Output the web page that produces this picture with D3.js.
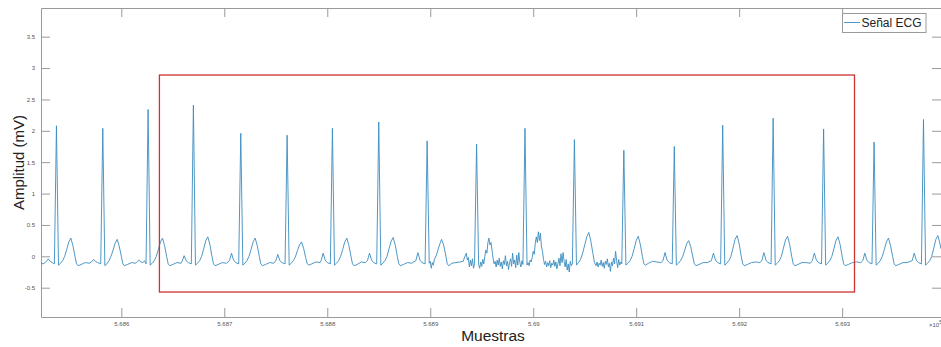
<!DOCTYPE html>
<html><head><meta charset="utf-8">
<script src="https://cdn.jsdelivr.net/npm/d3@7"></script>
<style>
html,body{margin:0;padding:0;background:#fff;overflow:hidden}
svg{display:block;font-family:"Liberation Sans",Arial,Helvetica,sans-serif}
</style></head>
<body>
<svg id="chart" width="941" height="347"></svg>
<script>
// ---------- data ----------
const xDomain = [568522, 569396];          // Muestras
const yDomain = [-0.967, 3.957];            // Amplitud (mV)
const xTickValues = [568600, 568700, 568800, 568900, 569000, 569100, 569200, 569300];
const xTickLabels = ["5.686", "5.687", "5.688", "5.689", "5.69", "5.691", "5.692", "5.693"];
const yTickValues = [-0.5, 0, 0.5, 1, 1.5, 2, 2.5, 3, 3.5];
const yTickLabels = ["-0.5", "0", "0.5", "1", "1.5", "2", "2.5", "3", "3.5"];
const seriesName = "Señal ECG";
const roiSamples = [568637, 569312];        // red rectangle, x extent
const roiAmplitude = [-0.569, 2.889];       // red rectangle, y extent

const ecgTrace = [
[568522,-0.11],[568524,-0.12],[568526,-0.10],[568528,-0.07],[568529,-0.04],[568531,-0.08],[568533,-0.10],[568535,-0.12],
[568537,2.08],[568539,-0.14],[568541,-0.11],[568543,-0.07],[568545,0.0],[568547,0.11],[568549,0.23],[568551,0.29],[568553,0.17],[568555,0.0],[568556.5,-0.12],[568558,-0.15],[568561,-0.13],[568565,-0.10],[568569,-0.11],
[568571,-0.09],[568573,-0.05],[568575,-0.08],[568577,-0.10],[568580,-0.12],[568582,2.04],[568584,-0.15],[568586,-0.12],[568588,-0.07],[568590,0.0],[568592,0.10],[568594,0.21],[568596,0.27],[568598,0.16],[568600,0.0],[568601.5,-0.12],[568603,-0.15],[568606,-0.13],[568610,-0.10],[568614,-0.11],
[568615,-0.09],[568617,-0.06],[568619,-0.09],[568621,-0.10],[568622.5,-0.07],[568624,-0.12],[568626,2.34],[568628,-0.14],[568630,-0.11],[568632,-0.07],[568634,0.0],[568636,0.11],[568638,0.23],[568640,0.29],[568642,0.17],[568644,0.0],[568645.5,-0.12],[568647,-0.15],[568650,-0.13],[568654,-0.10],[568658,-0.11],
[568659,-0.08],[568661,0.01],[568663,-0.07],[568665,-0.10],[568668,-0.12],[568670,2.41],[568672,-0.14],[568674,-0.11],[568676,-0.07],[568678,0.0],[568680,0.12],[568682,0.25],[568684,0.31],[568686,0.19],[568688,0.0],[568689.5,-0.12],[568691,-0.15],[568694,-0.13],[568698,-0.10],[568702,-0.11],
[568705,-0.07],[568707,0.05],[568709,-0.06],[568711,-0.10],[568714,-0.12],[568716,1.96],[568718,-0.14],[568720,-0.11],[568722,-0.07],[568724,0.0],[568726,0.11],[568728,0.23],[568730,0.29],[568732,0.17],[568734,0.0],[568735.5,-0.12],[568737,-0.15],[568740,-0.13],[568744,-0.10],[568748,-0.11],
[568750,-0.07],[568752,0.03],[568754,-0.07],[568756,-0.10],[568759,-0.12],[568761,1.93],[568763,-0.14],[568765,-0.11],[568767,-0.07],[568769,-0.01],[568771,0.09],[568773,0.18],[568775,0.23],[568777,0.13],[568779,-0.02],[568780.5,-0.12],[568782,-0.14],[568785,-0.12],[568789,-0.09],[568793,-0.10],
[568794,-0.07],[568796,0.05],[568798,-0.06],[568800,-0.10],[568803,-0.12],[568805,2.04],[568807,-0.14],[568809,-0.11],[568811,-0.07],[568813,0.0],[568815,0.11],[568817,0.23],[568819,0.29],[568821,0.17],[568823,0.0],[568824.5,-0.12],[568826,-0.15],[568829,-0.13],[568833,-0.09],[568837,-0.10],
[568839,-0.07],[568841,0.05],[568843,-0.06],[568845,-0.10],[568848,-0.12],[568850,2.14],[568852,-0.14],[568854,-0.11],[568856,-0.07],[568858,0.0],[568860,0.12],[568862,0.24],[568864,0.30],[568866,0.18],[568868,0.0],[568869.5,-0.12],[568871,-0.15],[568874,-0.13],[568878,-0.10],[568882,-0.11],
[568886,-0.07],[568888,0.06],[568890,-0.06],[568892,-0.10],[568895,-0.12],[568897,1.84],[568899,-0.11],[568900,-0.08],[568901,-0.19],[568902,-0.10],[568903,-0.14],[568904,-0.05],[568906,0.02],[568908,0.13],[568910,0.23],[568911,0.27],[568913,0.18],[568915,0.02],[568916.5,-0.12],[568918,-0.15],[568921,-0.11],[568925,-0.10],[568929,-0.09],
[568932,-0.08],[568933,-0.03],[568935,0.05],[568936,-0.06],[568937,-0.02],[568938,-0.17],[568939,-0.06],[568940,-0.15],[568941,-0.04],[568942,-0.19],[568943,-0.12],[568945,1.79],[568947,-0.13],[568948,-0.19],[568949,-0.09],[568950,-0.16],[568951,-0.05],[568952,-0.12],[568953,0.0],[568954,0.10],[568955,0.05],[568956,0.22],[568957,0.29],[568958,0.18],[568959,0.22],[568960,0.10],[568961,-0.03],[568962,-0.12],[568963,-0.08],[568964,-0.17],
[568965,-0.06],[568966,-0.14],[568967,-0.03],[568968,-0.16],[568969,-0.09],[568970,-0.20],[568971,-0.07],[568972,-0.13],[568973,0.01],[568974,-0.15],[568975,-0.08],[568976,-0.21],[568977,-0.10],[568978,-0.04],[568979,-0.16],[568980,0.05],[568981,-0.12],[568982,-0.06],[568983,-0.18],[568984,0.02],[568985,-0.14],[568986,0.06],[568987,-0.10],[568988,-0.17],[568989,-0.07],[568990,-0.13],
[568992,2.04],[568994,-0.14],[568995,-0.10],[568996,-0.15],[568997,-0.06],[568998,-0.09],[568999,-0.02],[569000,0.08],[569001,0.03],[569002,0.21],[569003,0.31],[569004,0.22],[569005,0.39],[569006,0.25],[569007,0.37],[569008,0.15],[569009,0.08],[569010,-0.05],[569011,-0.13],
[569012,-0.08],[569013,-0.17],[569014,-0.10],[569015,-0.15],[569016,-0.07],[569017,-0.18],[569018,-0.11],[569019,-0.14],[569020,-0.06],[569021,-0.16],[569022,-0.09],[569023,-0.20],[569024,-0.12],[569025,-0.03],[569026,-0.15],[569027,0.04],[569028,-0.10],[569029,0.06],[569030,-0.08],[569031,-0.17],[569032,-0.05],[569033,-0.22],[569034,-0.12],[569035,-0.25],[569036,-0.08],[569037,-0.15],[569038,-0.12],
[569040,1.86],[569042,-0.14],[569044,-0.10],[569046,-0.05],[569048,0.05],[569050,0.18],[569052,0.31],[569054,0.38],[569056,0.24],[569058,0.04],[569059.5,-0.10],
[569061,-0.15],[569062,-0.09],[569063,-0.17],[569064,-0.11],[569065,-0.14],[569066,-0.06],[569067,-0.16],[569068,-0.10],[569069,-0.19],[569070,-0.08],[569071,-0.13],[569072,-0.04],[569073,-0.17],[569074,-0.11],[569075,-0.24],[569076,-0.09],[569077,-0.15],[569078,-0.03],[569079,-0.12],[569080,0.08],[569081,-0.07],[569082,-0.18],[569083,-0.05],[569084,-0.14],[569085,-0.09],[569086,-0.12],
[569088,1.69],[569090,-0.14],[569092,-0.11],[569094,-0.07],[569096,0.0],[569098,0.12],[569100,0.25],[569102,0.32],[569104,0.19],[569106,0.0],[569107.5,-0.12],[569109,-0.14],[569112,-0.11],[569116,-0.08],[569120,-0.09],[569124,-0.10],
[569126,-0.07],[569128,0.06],[569130,-0.06],[569132,-0.10],[569135,-0.12],[569137,1.75],[569139,-0.14],[569141,-0.11],[569143,-0.07],[569145,-0.01],[569147,0.09],[569149,0.20],[569151,0.25],[569153,0.15],[569155,-0.01],[569156.5,-0.12],[569158,-0.15],[569161,-0.13],[569165,-0.10],[569169,-0.10],
[569173,-0.07],[569175,0.05],[569177,-0.06],[569179,-0.10],[569182,-0.12],[569184,2.09],[569186,-0.14],[569188,-0.11],[569190,-0.07],[569192,0.0],[569194,0.13],[569196,0.27],[569198,0.33],[569200,0.20],[569202,0.0],[569203.5,-0.12],[569205,-0.15],[569208,-0.13],[569212,-0.10],[569216,-0.09],[569220,-0.10],
[569222,-0.07],[569224,0.06],[569226,-0.06],[569228,-0.10],[569231,-0.12],[569233,2.20],[569235,-0.14],[569237,-0.11],[569239,-0.07],[569241,0.0],[569243,0.13],[569245,0.26],[569247,0.32],[569249,0.19],[569251,0.0],[569252.5,-0.12],[569254,-0.15],[569257,-0.13],[569261,-0.10],[569265,-0.10],[569269,-0.11],
[569271,-0.07],[569273,0.05],[569275,-0.06],[569277,-0.10],[569280,-0.12],[569282,2.03],[569284,-0.14],[569286,-0.11],[569288,-0.07],[569290,0.0],[569292,0.12],[569294,0.25],[569296,0.31],[569298,0.19],[569300,0.0],[569301.5,-0.12],[569303,-0.15],[569306,-0.13],[569310,-0.10],[569314,-0.09],[569318,-0.10],
[569320,-0.07],[569322,0.05],[569324,-0.06],[569326,-0.10],[569329,-0.12],[569331,1.82],[569333,-0.14],[569335,-0.11],[569337,-0.07],[569339,0.0],[569341,0.11],[569343,0.23],[569345,0.29],[569347,0.17],[569349,0.0],[569350.5,-0.12],[569352,-0.15],[569355,-0.13],[569359,-0.10],[569363,-0.10],
[569368,-0.07],[569370,0.05],[569372,-0.06],[569374,-0.10],[569377,-0.12],[569379,2.18],[569381,-0.14],[569383,-0.11],[569385,-0.07],[569387,0.0],[569389,0.13],[569391,0.27],[569393,0.33],[569395,0.20],[569396,0.12]
];

// ---------- layout ----------
const W = 941, H = 347;
const plot = {left: 41, right: 941, top: 8, bottom: 317};
const lineColor = "#3b8cbf";
const axisColor = "#9a9a9a";
const tickTextColor = "#555";

const svg = d3.select("#chart");
const x = d3.scaleLinear().domain(xDomain).range([plot.left, plot.right]);
const y = d3.scaleLinear().domain(yDomain).range([plot.bottom, plot.top]);

svg.append("defs").append("clipPath").attr("id", "clip")
  .append("rect").attr("x", plot.left).attr("y", plot.top)
  .attr("width", plot.right - plot.left).attr("height", plot.bottom - plot.top);

// axes (ticks inward, box on)
const tickLen = 9;
const styleAxis = g => {
  g.selectAll(".domain").attr("stroke", axisColor).attr("stroke-width", 1);
  g.selectAll(".tick line").attr("stroke", axisColor).attr("stroke-width", 1);
  g.selectAll(".tick text").attr("fill", tickTextColor).style("font-size", "6px");
};

svg.append("g").attr("transform", `translate(0,${plot.bottom})`)
  .call(d3.axisBottom(x).tickValues(xTickValues)
    .tickFormat((d, i) => xTickLabels[i]).tickSizeInner(-tickLen).tickSizeOuter(0).tickPadding(5))
  .call(styleAxis);
svg.append("g").attr("transform", `translate(0,${plot.top})`)
  .call(d3.axisTop(x).tickValues(xTickValues).tickFormat("").tickSizeInner(-tickLen).tickSizeOuter(0))
  .call(styleAxis);
svg.append("g").attr("transform", `translate(${plot.left},0)`)
  .call(d3.axisLeft(y).tickValues(yTickValues)
    .tickFormat((d, i) => yTickLabels[i]).tickSizeInner(-tickLen).tickSizeOuter(0).tickPadding(6))
  .call(styleAxis);
svg.append("g").attr("transform", `translate(${plot.right},0)`)
  .call(d3.axisRight(y).tickValues(yTickValues).tickFormat("").tickSizeInner(-tickLen).tickSizeOuter(0))
  .call(styleAxis);

// exponent label
const ex = svg.append("text").attr("x", 929).attr("y", 327)
  .attr("fill", tickTextColor).style("font-size", "6px").text("×10");
ex.append("tspan").attr("dy", -3).style("font-size", "5px").text("5");

// signal
const line = d3.line().x(d => x(d[0])).y(d => y(d[1]));
svg.append("path").datum(ecgTrace)
  .attr("clip-path", "url(#clip)")
  .attr("fill", "none").attr("stroke", lineColor).attr("stroke-width", 0.9)
  .attr("stroke-linejoin", "round").attr("d", line);

// region-of-interest rectangle
svg.append("rect")
  .attr("x", x(roiSamples[0])).attr("y", y(roiAmplitude[1]))
  .attr("width", x(roiSamples[1]) - x(roiSamples[0]))
  .attr("height", y(roiAmplitude[0]) - y(roiAmplitude[1]))
  .attr("fill", "none").attr("stroke", "#cc3333").attr("stroke-width", 1.3);

// axis labels
svg.append("text").attr("x", (plot.left + plot.right) / 2 + 2).attr("y", 341)
  .attr("text-anchor", "middle").attr("fill", "#222").style("font-size", "15.5px").text("Muestras");
svg.append("text").attr("transform", `translate(24,${(plot.top + plot.bottom) / 2}) rotate(-90)`)
  .attr("text-anchor", "middle").attr("fill", "#222").style("font-size", "15px").text("Amplitud (mV)");

// legend
const lg = svg.append("g");
lg.append("rect").attr("x", 842.5).attr("y", 13.5).attr("width", 83.5).attr("height", 19)
  .attr("fill", "#fff").attr("stroke", "#9a9a9a").attr("stroke-width", 1);
lg.append("line").attr("x1", 844).attr("x2", 860).attr("y1", 22.5).attr("y2", 22.5)
  .attr("stroke", lineColor).attr("stroke-width", 0.9);
lg.append("text").attr("x", 861.5).attr("y", 27).attr("fill", "#222")
  .style("font-size", "12px").text(seriesName);
</script>
</body></html>
